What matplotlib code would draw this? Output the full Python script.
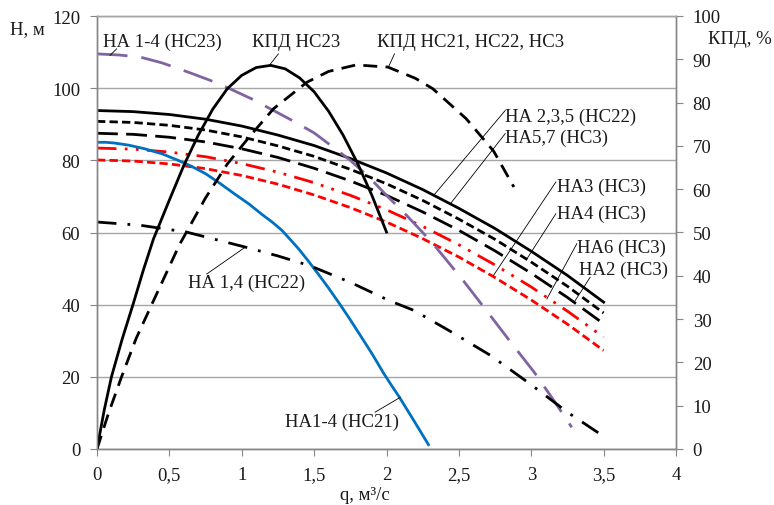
import matplotlib
matplotlib.use("Agg")
import matplotlib.pyplot as plt
from matplotlib.ticker import FixedLocator, FixedFormatter

plt.rcParams['font.family'] = ['Liberation Serif', 'DejaVu Serif']

# ---------------- data ----------------
q_std = [0, 0.25, 0.5, 0.75, 1.0, 1.25, 1.5, 1.75, 2.0, 2.25, 2.5, 2.75, 3.0, 3.25, 3.5]
H_na235_nc22 = [93.8, 93.5, 92.7, 91.4, 89.5, 87.0, 84.1, 80.5, 76.5, 71.9, 66.7, 61.1, 54.8, 48.1, 40.7]  # solid black
H_na57_nc3 = [90.8, 90.5, 89.7, 88.4, 86.5, 84.0, 81.1, 77.5, 73.5, 68.9, 63.7, 58.1, 51.8, 45.1, 37.7]    # short dash black
H_na2_nc3 = [87.5, 87.2, 86.4, 85.1, 83.2, 80.8, 77.8, 74.3, 70.3, 65.7, 60.6, 54.9, 48.7, 42.0, 34.7]     # long dash black
H_na6_nc3 = [83.4, 83.1, 82.3, 81.0, 79.1, 76.7, 73.8, 70.3, 66.3, 61.7, 56.6, 51.0, 44.9, 38.2, 31.0]     # red dash-dot-dot
H_na3_nc3 = [80.1, 79.8, 79.0, 77.7, 75.8, 73.4, 70.4, 66.9, 62.9, 58.3, 53.2, 47.5, 41.3, 34.6, 27.3]     # red short dash

q_nc21 = [0, 0.06, 0.12, 0.22, 0.33, 0.45, 0.56, 0.65, 0.75, 0.85, 0.95, 1.05, 1.14, 1.21, 1.28,
          1.39, 1.46, 1.53, 1.6, 1.68, 1.75, 1.83, 1.9, 1.98, 2.04, 2.09, 2.19, 2.29]
H_nc21 = [85.0, 85.0, 84.8, 84.2, 83.2, 81.8, 80.0, 78.4, 76.3, 73.6, 70.7, 67.9, 65.0, 62.9, 60.5,
          55.6, 52.1, 48.4, 44.6, 40.0, 35.8, 30.8, 26.4, 21.0, 17.3, 14.3, 7.8, 1.2]

q_nc23 = [0, 0.15, 0.3, 0.45, 0.64, 0.78, 0.92, 1.07, 1.22, 1.36, 1.5, 1.62, 1.75, 1.88, 2.0,
          2.14, 2.25, 2.35, 2.52, 2.69, 2.86, 3.02, 3.15, 3.28]
H_nc23 = [109.5, 109.2, 108.6, 107.0, 104.3, 102.2, 99.8, 97.0, 93.8, 90.8, 87.6, 84.0, 80.0, 75.3, 70.3,
          64.7, 60.0, 55.5, 47.2, 38.4, 29.5, 21.3, 13.8, 6.0]

q_na14 = [0, 0.3, 0.62, 1.03, 1.25, 1.47, 1.75, 2.02, 2.19, 2.45, 2.72, 3.0, 3.25, 3.5]
H_na14 = [62.9, 62.0, 60.1, 55.9, 53.5, 50.8, 46.2, 41.1, 38.4, 32.4, 25.9, 17.8, 10.2, 3.5]

q_eff23 = [0, 0.05, 0.1, 0.175, 0.25, 0.32, 0.39, 0.5, 0.6, 0.7, 0.8, 0.9, 1.0, 1.1, 1.2,
           1.3, 1.4, 1.5, 1.6, 1.7, 1.8, 1.9, 2.0]
E_eff23 = [0, 9.0, 16.7, 25.5, 33.5, 41.3, 48.5, 57.5, 65.5, 72.5, 78.5, 83.2, 86.3, 88.1, 88.6,
           87.8, 85.7, 82.5, 78.0, 72.5, 66.0, 58.5, 50.1]

q_eff3 = [0, 0.08, 0.17, 0.27, 0.38, 0.57, 0.75, 0.9, 1.05, 1.22, 1.45, 1.6, 1.79, 2.01, 2.2,
          2.32, 2.55, 2.74, 2.88]
E_eff3 = [0, 8.3, 16.7, 25.5, 33.5, 47.2, 58.0, 65.8, 72.0, 78.6, 84.7, 87.2, 88.7, 88.2, 85.6,
          83.2, 76.3, 68.8, 60.5]

x_ticks = [0, 0.5, 1, 1.5, 2, 2.5, 3, 3.5, 4]
x_tick_labels = ["0", "0,5", "1", "1,5", "2", "2,5", "3", "3,5", "4"]
yl_ticks = [0, 20, 40, 60, 80, 100, 120]
yr_ticks = [0, 10, 20, 30, 40, 50, 60, 70, 80, 90, 100]

# ---------------- figure ----------------
W, Hh = 774, 506
fig = plt.figure(figsize=(W / 100, Hh / 100), dpi=100)
L, R, B, T = 97, 676, 450, 17
ax = fig.add_axes([L / W, 1 - B / Hh, (R - L) / W, (B - T) / Hh])
ax2 = ax.twinx()

GRID = '#A6A6A6'
SP = '#868686'
FS = 13.5
TC = '#1a1a1a'

ax.set_xlim(0, 4)
ax.set_ylim(0, 120)
ax2.set_ylim(0, 100)

ax.xaxis.set_major_locator(FixedLocator(x_ticks))
ax.xaxis.set_major_formatter(FixedFormatter(x_tick_labels))
ax.yaxis.set_major_locator(FixedLocator(yl_ticks))
ax2.yaxis.set_major_locator(FixedLocator(yr_ticks))

ax.grid(axis='y', color=GRID, lw=1)
ax.set_axisbelow(True)
for a in (ax, ax2):
    for s in a.spines.values():
        s.set_color(SP)
        s.set_linewidth(1)
    a.spines['top'].set_color(GRID)
ax.tick_params(axis='both', direction='out', length=5, color=SP, labelsize=FS, labelcolor=TC, pad=7)
ax2.tick_params(axis='y', direction='out', length=5, color=SP, labelsize=FS, labelcolor=TC, pad=7)

LW = 2.0
ax.plot(q_std, H_na235_nc22, color='black', lw=LW, ls='-')
ax.plot(q_std, H_na57_nc3, color='black', lw=LW, ls=(0, (3, 1.5)))
ax.plot(q_std, H_na2_nc3, color='black', lw=LW, ls=(0, (7.5, 3)))
ax.plot(q_std, H_na6_nc3, color='#FF0000', lw=LW, ls=(0, (7, 3, 1, 3, 1, 3)))
ax.plot(q_std, H_na3_nc3, color='#FF0000', lw=LW, ls=(0, (3, 1.5)))
ax.plot(q_nc21, H_nc21, color='#0070C0', lw=LW, ls='-')
ax.plot(q_nc23, H_nc23, color='#8064A2', lw=LW, ls=(0, (11, 5)))
ax.plot(q_na14, H_na14, color='black', lw=LW, ls=(0, (7, 4, 1, 4)))

ax2.plot(q_eff23, E_eff23, color='black', lw=LW, ls='-')
ax2.plot(q_eff3, E_eff3, color='black', lw=LW, ls=(0, (5, 3)))

# ---------------- annotations ----------------
labels = [
    ("НА 1-4 (НС23)", 0.041, 112.9, (0.136, 110.9), (0.090, 109.1)),
    ("КПД НС23", 1.071, 112.9, (1.253, 109.5), (1.196, 106.6)),
    ("КПД НС21, НС22, НС3", 1.935, 112.9, (2.055, 109.5), (2.013, 105.8)),
    ("НА 2,3,5 (НС22)", 2.820, 92.3, (2.820, 93.8), (2.324, 70.2)),
    ("НА5,7 (НС3)", 2.820, 86.5, (2.820, 87.4), (2.440, 67.9)),
    ("НА3 (НС3)", 3.179, 72.9, (3.170, 74.0), (2.739, 48.1)),
    ("НА4 (НС3)", 3.179, 65.2, (3.170, 65.2), (2.970, 52.7)),
    ("НА6 (НС3)", 3.317, 56.0, (3.315, 56.9), (3.108, 41.6)),
    ("НА2 (НС3)", 3.331, 49.9, (3.407, 47.6), (3.303, 41.1)),
    ("НА 1,4 (НС22)", 0.629, 46.3, (0.758, 48.5), (1.023, 55.9)),
    ("НА1-4 (НС21)", 1.299, 7.6, (1.921, 10.2), (2.094, 14.3)),
]
for txt, tx, ty, p0, p1 in labels:
    ax2.text(tx, ty * 100 / 120, txt, fontsize=FS, color=TC, ha='left', va='center')
    ax2.plot([p0[0], p1[0]], [p0[1] * 100 / 120, p1[1] * 100 / 120], color='black', lw=0.6)

fig.text(10 / W, 1 - 30 / Hh, "Н, м", fontsize=FS, color=TC, ha='left', va='center')
fig.text(708 / W, 1 - 40 / Hh, "КПД, %", fontsize=FS, color=TC, ha='left', va='center')
fig.text(365 / W, 1 - 496 / Hh, "q, м³/с", fontsize=FS, color=TC, ha='center', va='center')

fig.savefig("out.png", dpi=100)
